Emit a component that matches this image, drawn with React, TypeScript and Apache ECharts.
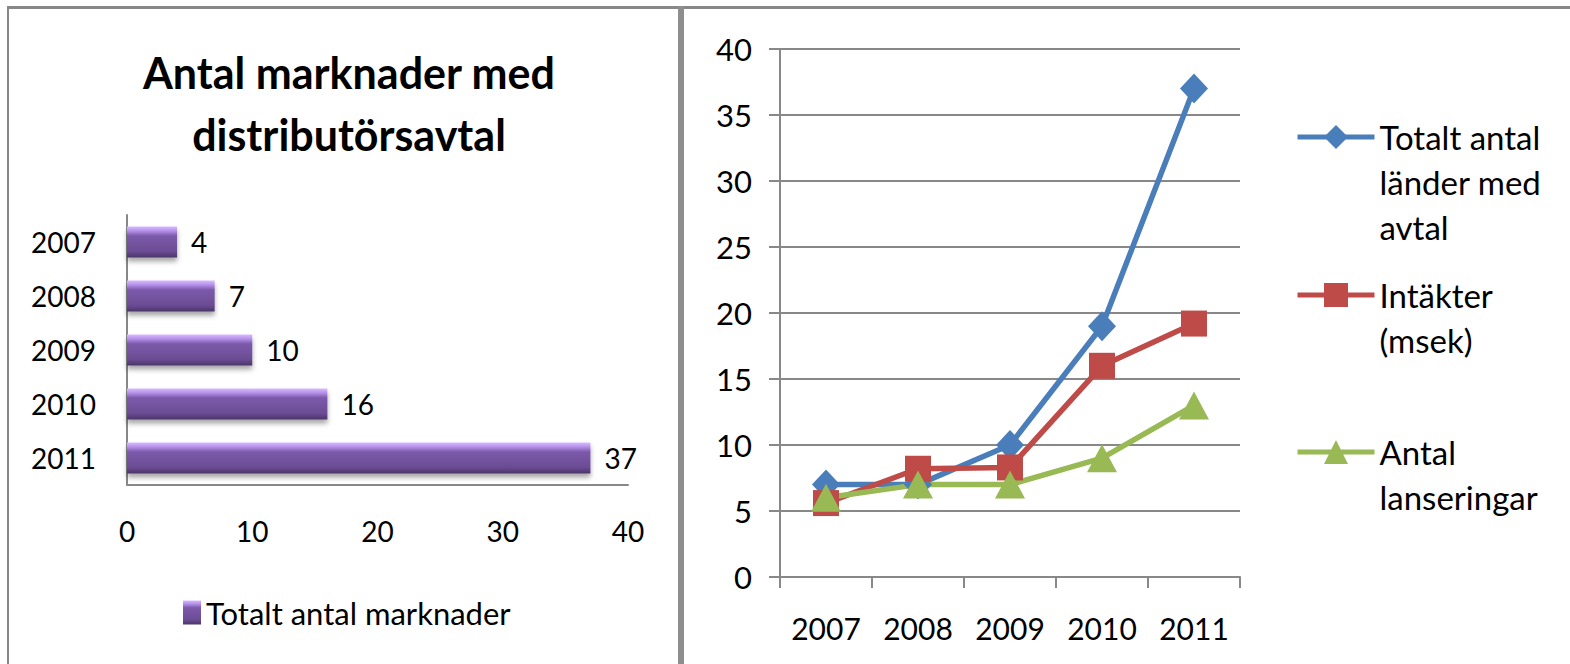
import React, { useEffect, useRef } from "react";
import * as echarts from "echarts";

const years = ["2007", "2008", "2009", "2010", "2011"];
const marketCounts = [4, 7, 10, 16, 37];
const countriesWithAgreements = [7, 7, 10, 19, 37];
const revenueMsek = [5.6, 8.2, 8.3, 16, 19.2];
const launches = [6, 7, 7, 9, 13];

const barTitle = "Antal marknader med\ndistributörsavtal";
const barSeriesName = "Totalt antal marknader";
const lineNames = ["Totalt antal länder med avtal", "Intäkter (msek)", "Antal lanseringar"];
const lineLegendLines = [["Totalt antal", "länder med", "avtal"], ["Intäkter", "(msek)"], ["Antal", "lanseringar"]];

const FONT = "Lato, 'Open Sans', sans-serif";
const GRAY = "#888888";

export default function App() {
  const ref = useRef<HTMLDivElement>(null);
  useEffect(() => {
    if (!ref.current) return;
    const chart = echarts.init(ref.current, null, { renderer: "svg" });
    const barGradient = new echarts.graphic.LinearGradient(0, 0, 0, 1, [
      { offset: 0, color: "#d8bbff" },
      { offset: 0.14, color: "#b690ea" },
      { offset: 0.3, color: "#7c5aab" },
      { offset: 0.8, color: "#6b4c94" },
      { offset: 1, color: "#4a3468" },
    ]);
    const lineColors = ["#4a7ebb", "#be4b48", "#98b954"];
    const symbols = ["diamond", "rect", "triangle"];
    const symbolSizes: any[] = [[28, 30], [26, 26], [30, 28]];
    const lineData = [countriesWithAgreements, revenueMsek, launches];
    const iconCenters = [137, 295, 452];
    const LH = 45;
    const ITEM_H = 30;

    chart.setOption({
      animation: false,
      backgroundColor: "#ffffff",
      textStyle: { fontFamily: FONT },
      title: {
        text: barTitle,
        left: 344,
        top: 36,
        textAlign: "center",
        textStyle: { fontFamily: FONT, fontWeight: "bold", fontSize: 43, lineHeight: 62, color: "#000" },
      },
      graphic: [
        { type: "line", shape: { x1: 7, y1: 7.5, x2: 1570, y2: 7.5 }, style: { stroke: GRAY, lineWidth: 3 } },
        { type: "line", shape: { x1: 8, y1: 6, x2: 8, y2: 664 }, style: { stroke: GRAY, lineWidth: 2 } },
        { type: "line", shape: { x1: 681, y1: 6, x2: 681, y2: 664 }, style: { stroke: "#8e8e8e", lineWidth: 6 } },
      ],
      legend: [
        {
          data: [barSeriesName],
          left: 183,
          top: 597,
          padding: 0,
          icon: "rect",
          itemWidth: 18,
          itemHeight: 24,
          textStyle: { fontFamily: FONT, fontSize: 31, color: "#000" },
        },
        ...lineNames.map((n, i) => {
          const lines = lineLegendLines[i];
          const pad = lines.length - 1;
          const total = lines.length + pad;
          return {
            data: [n],
            left: 1295,
            top: iconCenters[i] - (total * LH) / 2,
            padding: 0,
            itemWidth: 77,
            itemHeight: ITEM_H,
            lineStyle: { width: 5 },
            formatter: () => "\n".repeat(pad) + lines.join("\n"),
            textStyle: {
              fontFamily: FONT,
              fontSize: 33,
              lineHeight: LH,
              color: "#000",
            },
          };
        }),
      ],
      grid: [
        { left: 127, top: 215, width: 501, height: 270, containLabel: false },
        { left: 780, top: 49, width: 460, height: 528, containLabel: false },
      ],
      xAxis: [
        {
          gridIndex: 0,
          type: "value",
          min: 0,
          max: 40,
          interval: 10,
          axisLine: { show: true, lineStyle: { color: GRAY, width: 2 } },
          axisTick: { show: false },
          splitLine: { show: false },
          axisLabel: { fontFamily: FONT, fontSize: 28, color: "#000", margin: 32 },
        },
        {
          gridIndex: 1,
          type: "category",
          data: years,
          boundaryGap: true,
          axisLine: { show: true, lineStyle: { color: GRAY, width: 2 } },
          axisTick: { show: true, length: 11, lineStyle: { color: GRAY, width: 2 } },
          axisLabel: { fontFamily: FONT, fontSize: 30, color: "#000", margin: 36 },
        },
      ],
      yAxis: [
        {
          gridIndex: 0,
          type: "category",
          data: years,
          inverse: true,
          axisLine: { show: true, lineStyle: { color: GRAY, width: 2 } },
          axisTick: { show: false },
          axisLabel: { fontFamily: FONT, fontSize: 28, color: "#000", margin: 31 },
        },
        {
          gridIndex: 1,
          type: "value",
          min: 0,
          max: 40,
          interval: 5,
          axisLine: { show: true, lineStyle: { color: GRAY, width: 2 } },
          axisTick: { show: true, length: 11, lineStyle: { color: GRAY, width: 2 } },
          splitLine: { show: true, lineStyle: { color: GRAY, width: 2 } },
          axisLabel: { fontFamily: FONT, fontSize: 31, color: "#000", margin: 28 },
        },
      ],
      series: [
        {
          type: "bar",
          name: barSeriesName,
          xAxisIndex: 0,
          yAxisIndex: 0,
          data: marketCounts,
          barWidth: 31,
          itemStyle: {
            color: barGradient,
            shadowColor: "rgba(0,0,0,0.35)",
            shadowBlur: 5,
            shadowOffsetY: 4,
          },
          label: {
            show: true,
            position: "right",
            distance: 14,
            fontFamily: FONT,
            fontSize: 28,
            color: "#000",
          },
        },
        ...lineNames.map((n, i) => ({
          type: "line",
          name: n,
          xAxisIndex: 1,
          yAxisIndex: 1,
          data: lineData[i],
          symbol: symbols[i],
          symbolSize: symbolSizes[i],
          color: lineColors[i],
          lineStyle: { width: 5.5, color: lineColors[i] },
          itemStyle: { color: lineColors[i] },
        })),
      ],
    });
    return () => chart.dispose();
  }, []);
  return (
    <div
      ref={ref}
      style={{ position: "fixed", left: 0, top: 0, width: 1570, height: 664 }}
    />
  );
}
